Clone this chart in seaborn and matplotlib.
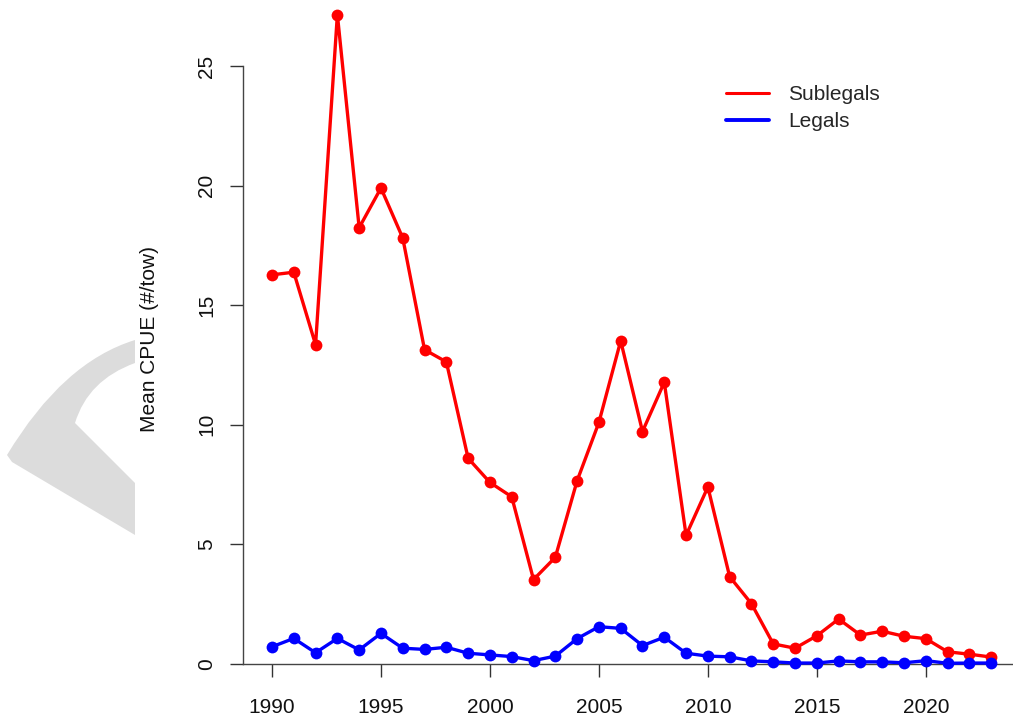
import numpy as np
import pandas as pd
import matplotlib.pyplot as plt
import seaborn as sns
from matplotlib.lines import Line2D
from matplotlib.path import Path
from matplotlib.patches import PathPatch

years = list(range(1990, 2024))
sublegals = [16.27, 16.38, 13.35, 27.15, 18.24, 19.9, 17.81, 13.14, 12.63, 8.6,
             7.59, 6.99, 3.53, 4.46, 7.66, 10.1, 13.51, 9.72, 11.78, 5.38,
             7.4, 3.65, 2.52, 0.84, 0.66, 1.18, 1.88, 1.21, 1.37, 1.16,
             1.06, 0.51, 0.41, 0.29]
legals = [0.72, 1.07, 0.47, 1.07, 0.59, 1.28, 0.66, 0.61, 0.70, 0.45,
          0.38, 0.31, 0.14, 0.33, 1.06, 1.56, 1.49, 0.77, 1.12, 0.45,
          0.33, 0.30, 0.13, 0.09, 0.04, 0.04, 0.13, 0.09, 0.09, 0.05,
          0.14, 0.03, 0.04, 0.04]
groups = ['Sublegals', 'Legals']
colors = {'Sublegals': '#ff0000', 'Legals': '#0000ff'}
x_ticks = [1990, 1995, 2000, 2005, 2010, 2015, 2020]
y_ticks = [0, 5, 10, 15, 20, 25]

df = pd.DataFrame({
    'year': years + years,
    'cpue': sublegals + legals,
    'group': ['Sublegals'] * len(years) + ['Legals'] * len(years),
})

sns.set_style('white')
plt.rcParams['font.family'] = ['Liberation Sans', 'DejaVu Sans']

W, H = 1013, 719
fig = plt.figure(figsize=(W / 100, H / 100), dpi=100)

# light grey watermark piece on the left edge
def px(x, y):
    return (x / W, 1 - y / H)

verts = [px(135, 340), px(63, 362), px(7, 455), px(12, 462), px(135, 535),
         px(135, 483), px(75, 423), px(88, 380), px(135, 363), px(135, 340)]
codes = [Path.MOVETO, Path.CURVE3, Path.CURVE3, Path.LINETO, Path.LINETO,
         Path.LINETO, Path.LINETO, Path.CURVE3, Path.CURVE3, Path.CLOSEPOLY]
fig.patches.append(PathPatch(Path(verts, codes), transform=fig.transFigure,
                             facecolor='#dcdcdc', edgecolor='none', zorder=0))

ax = fig.add_axes([243 / W, 1 - 664 / H, 1 - 243 / W, 664 / H])
ax.patch.set_alpha(0)

sns.lineplot(data=df, x='year', y='cpue', hue='group', hue_order=groups,
             palette=colors, marker='o', markersize=8.5, markeredgewidth=0,
             linewidth=2.4, errorbar=None, legend=False, clip_on=False,
             zorder=3, ax=ax)

ax.set_xlim(1988.67, 2024.0)
ax.set_ylim(0, 27.76)
ax.spines['top'].set_visible(False)
ax.spines['right'].set_visible(False)
ax.spines['left'].set_bounds(0, 25)
for s in ['left', 'bottom']:
    ax.spines[s].set_color('#444444')
    ax.spines[s].set_linewidth(1)

ax.set_xticks(x_ticks)
ax.set_yticks(y_ticks)
ax.tick_params(bottom=True, left=True, direction='out', length=9.5, width=1,
               color='#333333', labelsize=15, labelcolor='#111111')
ax.tick_params(axis='y', pad=10)
ax.tick_params(axis='x', pad=15)
for lab in ax.get_yticklabels():
    lab.set_rotation(90)
    lab.set_va('center')

ax.set_xlabel('')
ax.set_ylabel('Mean CPUE (#/tow)', fontsize=15, color='#111111')
ax.yaxis.set_label_coords(-0.109, 0.49)

handles = [Line2D([], [], color=colors['Sublegals'], lw=2.2),
           Line2D([], [], color=colors['Legals'], lw=2.8)]
fig.legend(handles, groups, loc='upper left', bbox_to_anchor=(726 / W, 1 - 85 / H),
           frameon=False, fontsize=15, handlelength=2.07, handletextpad=0.9,
           labelspacing=0.38, borderpad=0, borderaxespad=0)

fig.savefig('out.png', dpi=100)
